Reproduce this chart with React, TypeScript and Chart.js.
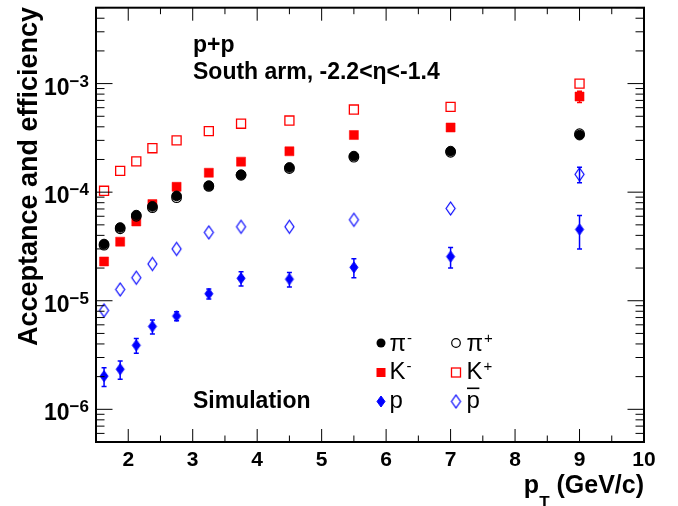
import React, { useEffect, useRef } from "react";
import { Chart, registerables } from "chart.js";

Chart.register(...registerables);

// ---------------- data ----------------
const pT = [1.625, 1.875, 2.125, 2.375, 2.75, 3.25, 3.75, 4.5, 5.5, 7, 9];
const piMinus = [3.33e-5, 4.73e-5, 6.15e-5, 7.4e-5, 9.25e-5, 1.15e-4, 1.45e-4, 1.69e-4, 2.15e-4, 2.39e-4, 3.35e-4];
const piPlus = [3.25e-5, 4.6e-5, 6.0e-5, 7.2e-5, 8.9e-5, 1.13e-4, 1.43e-4, 1.65e-4, 2.1e-4, 2.33e-4, 3.45e-4];
const kMinus = [2.3e-5, 3.5e-5, 5.37e-5, 7.76e-5, 1.12e-4, 1.51e-4, 1.91e-4, 2.38e-4, 3.36e-4, 3.94e-4, 7.6e-4];
const kMinusErr = [0, 0, 0, 0, 0, 0, 0, 0, 0, 0, 0.9e-4];
const kPlus = [1.03e-4, 1.57e-4, 1.92e-4, 2.54e-4, 3.0e-4, 3.65e-4, 4.27e-4, 4.57e-4, 5.77e-4, 6.1e-4, 1.0e-3];
const proton = [2.02e-6, 2.34e-6, 3.89e-6, 5.8e-6, 7.23e-6, 1.16e-5, 1.61e-5, 1.58e-5, 2.03e-5, 2.55e-5, 4.54e-5];
const protonErr = [0.4e-6, 0.45e-6, 0.6e-6, 0.85e-6, 0.7e-6, 1.2e-6, 2.4e-6, 2.4e-6, 4e-6, 5.5e-6, 1.55e-5];
const antiProton = [8.15e-6, 1.27e-5, 1.63e-5, 2.18e-5, 3.0e-5, 4.26e-5, 4.8e-5, 4.8e-5, 5.57e-5, 7.08e-5, 1.46e-4];
const antiProtonErr = [0, 0, 0, 0, 0, 0, 0, 0, 0, 0, 2.4e-5];

const xTickLabels = [2, 3, 4, 5, 6, 7, 8, 9, 10];
const yTickExponents = [-3, -4, -5, -6];

const X_MIN = 1.5;
const X_MAX = 10;
const Y_MIN = 5e-7;
const Y_MAX = 5e-3;

const RED = "#ff0000";
const BLUE = "#0000ff";
const BLACK = "#000000";
const FONT = '"Liberation Sans", Arial, Helvetica, sans-serif';

function makeDiamond(w: number, h: number, fill: string | null, stroke: string | null, lw: number) {
  const c = document.createElement("canvas");
  const pad = 2;
  c.width = w + pad * 2;
  c.height = h + pad * 2;
  const g = c.getContext("2d")!;
  g.beginPath();
  g.moveTo(c.width / 2, pad);
  g.lineTo(c.width - pad, c.height / 2);
  g.lineTo(c.width / 2, c.height - pad);
  g.lineTo(pad, c.height / 2);
  g.closePath();
  if (fill) {
    g.fillStyle = fill;
    g.fill();
  }
  if (stroke) {
    g.strokeStyle = stroke;
    g.lineWidth = lw;
    g.stroke();
  }
  return c;
}

const pts = (ys: number[]) => pT.map((x, i) => ({ x, y: ys[i] }));

export default function App() {
  const ref = useRef<HTMLCanvasElement | null>(null);

  useEffect(() => {
    if (!ref.current) return;
    const filledDiamond = makeDiamond(8, 11, BLUE, BLUE, 1);
    const openDiamond = makeDiamond(9, 13, null, BLUE, 1.2);

    const errorSets = [
      { vals: kMinus, errs: kMinusErr, color: RED },
      { vals: proton, errs: protonErr, color: BLUE },
      { vals: antiProton, errs: antiProtonErr, color: BLUE },
    ];

    const overlay = {
      id: "overlay",
      beforeDatasetsDraw(chart: any) {
        const ctx = chart.ctx as CanvasRenderingContext2D;
        const xs = chart.scales.x;
        const ys = chart.scales.y;
        ctx.save();
        ctx.lineWidth = 1.5;
        for (const s of errorSets) {
          ctx.strokeStyle = s.color;
          s.errs.forEach((e, i) => {
            if (!e) return;
            const x = xs.getPixelForValue(pT[i]);
            const y1 = ys.getPixelForValue(s.vals[i] + e);
            const y2 = ys.getPixelForValue(Math.max(s.vals[i] - e, Y_MIN));
            ctx.beginPath();
            ctx.moveTo(x, y1);
            ctx.lineTo(x, y2);
            ctx.moveTo(x - 2.5, y1);
            ctx.lineTo(x + 2.5, y1);
            ctx.moveTo(x - 2.5, y2);
            ctx.lineTo(x + 2.5, y2);
            ctx.stroke();
          });
        }
        ctx.restore();
      },
      afterDatasetsDraw(chart: any) {
        const ctx = chart.ctx as CanvasRenderingContext2D;
        const xs = chart.scales.x;
        const ys = chart.scales.y;
        const { left, right, top, bottom } = chart.chartArea;
        ctx.save();
        // frame
        ctx.strokeStyle = BLACK;
        ctx.lineWidth = 2;
        ctx.strokeRect(left, top, right - left, bottom - top);

        // x ticks
        ctx.lineWidth = 1;
        ctx.beginPath();
        for (let v = X_MIN; v <= X_MAX + 1e-9; v += 0.5) {
          const x = xs.getPixelForValue(v);
          const major = Math.abs(v - Math.round(v)) < 1e-9;
          const len = major ? 13 : 6.5;
          ctx.moveTo(x, bottom);
          ctx.lineTo(x, bottom - len);
          ctx.moveTo(x, top);
          ctx.lineTo(x, top + len);
        }
        // y ticks
        for (let dec = -7; dec <= -3; dec++) {
          for (let m = 1; m <= 9; m++) {
            const v = m * Math.pow(10, dec);
            if (v < Y_MIN * 0.999 || v > Y_MAX * 1.001) continue;
            const y = ys.getPixelForValue(v);
            const len = m === 1 ? 16.5 : 8.5;
            ctx.moveTo(left, y);
            ctx.lineTo(left + len, y);
            ctx.moveTo(right, y);
            ctx.lineTo(right - len, y);
          }
        }
        ctx.stroke();

        // x tick labels
        ctx.fillStyle = BLACK;
        ctx.font = `bold 21px ${FONT}`;
        ctx.textAlign = "center";
        ctx.textBaseline = "alphabetic";
        for (const v of xTickLabels) {
          ctx.fillText(String(v), xs.getPixelForValue(v), bottom + 24);
        }

        // y tick labels (10^e)
        ctx.textAlign = "left";
        for (const e of yTickExponents) {
          const y = ys.getPixelForValue(Math.pow(10, e));
          const exp = "\u2212" + Math.abs(e);
          ctx.font = `bold 17px ${FONT}`;
          const wExp = ctx.measureText(exp).width;
          ctx.font = `bold 23px ${FONT}`;
          const wBase = ctx.measureText("10").width;
          const r = left - 7;
          ctx.fillText("10", r - wExp - wBase, y + 11);
          ctx.font = `bold 17px ${FONT}`;
          ctx.fillText(exp, r - wExp, y + 3);
        }

        // x title: p_T (GeV/c)
        ctx.font = `bold 25px ${FONT}`;
        const wp = ctx.measureText("p").width;
        const rest = " (GeV/c)";
        const wRest = ctx.measureText(rest).width;
        ctx.font = `bold 17px ${FONT}`;
        const wT = ctx.measureText("T").width;
        const xEnd = right;
        const xStart = xEnd - wRest - wT - wp;
        ctx.font = `bold 25px ${FONT}`;
        ctx.fillText("p", xStart, 493);
        ctx.fillText(rest, xStart + wp + wT, 493);
        ctx.font = `bold 17px ${FONT}`;
        ctx.fillText("T", xStart + wp, 508);

        // y title
        ctx.save();
        ctx.translate(37, 176.5);
        ctx.rotate(-Math.PI / 2);
        ctx.textAlign = "center";
        ctx.font = `bold 27px ${FONT}`;
        ctx.fillText("Acceptance and efficiency", 0, 0);
        ctx.restore();

        // annotations
        ctx.textAlign = "left";
        ctx.font = `bold 23px ${FONT}`;
        ctx.fillText("p+p", 193, 52);
        ctx.fillText("South arm, -2.2<\u03b7<-1.4", 193, 78.5);
        ctx.fillText("Simulation", 193, 408);

        // legend
        const rowsY = [343, 372.5, 401.5];
        const col1M = 381, col1T = 389.5, col2M = 456, col2T = 466.5;
        const drawText = (x: number, yb: number, main: string, sup: string, bar: boolean) => {
          ctx.font = `24px ${FONT}`;
          ctx.fillText(main, x, yb);
          const w = ctx.measureText(main).width;
          if (bar) {
            ctx.fillRect(x + 0.5, yb - 20, w - 1, 1.6);
          }
          if (sup) {
            ctx.font = `15px ${FONT}`;
            ctx.fillText(sup, x + w + 1, yb - 8);
          }
        };
        // pi-
        ctx.fillStyle = BLACK;
        ctx.beginPath();
        ctx.arc(col1M, rowsY[0], 4.5, 0, Math.PI * 2);
        ctx.fill();
        drawText(col1T, rowsY[0] + 7.5, "\u03c0", "-", false);
        // pi+
        ctx.strokeStyle = BLACK;
        ctx.lineWidth = 1.2;
        ctx.beginPath();
        ctx.arc(col2M, rowsY[0], 4.3, 0, Math.PI * 2);
        ctx.stroke();
        drawText(col2T, rowsY[0] + 7.5, "\u03c0", "+", false);
        // K-
        ctx.fillStyle = RED;
        ctx.fillRect(col1M - 4.5, rowsY[1] - 4.5, 9, 9);
        ctx.fillStyle = BLACK;
        drawText(col1T, rowsY[1] + 6, "K", "-", false);
        // K+
        ctx.strokeStyle = RED;
        ctx.lineWidth = 1.3;
        ctx.strokeRect(col2M - 4.5, rowsY[1] - 4.5, 9, 9);
        drawText(col2T, rowsY[1] + 6, "K", "+", false);
        // p
        ctx.drawImage(filledDiamond, col1M - filledDiamond.width / 2, rowsY[2] - filledDiamond.height / 2);
        drawText(col1T, rowsY[2] + 6, "p", "", false);
        // pbar
        ctx.drawImage(openDiamond, col2M - openDiamond.width / 2, rowsY[2] - openDiamond.height / 2);
        drawText(col2T, rowsY[2] + 6, "p", "", true);

        ctx.restore();
      },
    };

    const chart = new Chart(ref.current, {
      type: "scatter",
      data: {
        datasets: [
          {
            label: "p",
            data: pts(proton),
            pointStyle: filledDiamond as any,
            pointRadius: 6,
          },
          {
            label: "pbar",
            data: pts(antiProton),
            pointStyle: openDiamond as any,
            pointRadius: 6,
          },
          {
            label: "pi-",
            data: pts(piMinus),
            pointStyle: "circle",
            pointRadius: 4.8,
            backgroundColor: BLACK,
            borderColor: BLACK,
            borderWidth: 1,
          },
          {
            label: "pi+",
            data: pts(piPlus),
            pointStyle: "circle",
            pointRadius: 4.8,
            backgroundColor: "rgba(0,0,0,0)",
            borderColor: BLACK,
            borderWidth: 1.2,
          },
          {
            label: "K-",
            data: pts(kMinus),
            pointStyle: "rect",
            pointRadius: 6.4,
            backgroundColor: RED,
            borderColor: RED,
            borderWidth: 0.5,
          },
          {
            label: "K+",
            data: pts(kPlus),
            pointStyle: "rect",
            pointRadius: 6.4,
            backgroundColor: "rgba(0,0,0,0)",
            borderColor: RED,
            borderWidth: 1.3,
          },
        ],
      },
      options: {
        responsive: false,
        devicePixelRatio: 1,
        animation: false,
        layout: { padding: { left: 96, right: 34, top: 6, bottom: 64 } },
        plugins: {
          legend: { display: false },
          tooltip: { enabled: false },
        },
        scales: {
          x: { type: "linear", min: X_MIN, max: X_MAX, display: false },
          y: { type: "logarithmic", min: Y_MIN, max: Y_MAX, display: false },
        },
      },
      plugins: [overlay],
    });
    return () => chart.destroy();
  }, []);

  return (
    <div style={{ position: "absolute", left: 0, top: 0, width: 678, height: 506, background: "#fff" }}>
      <canvas ref={ref} width={678} height={506} style={{ width: 678, height: 506, display: "block" }} />
    </div>
  );
}
